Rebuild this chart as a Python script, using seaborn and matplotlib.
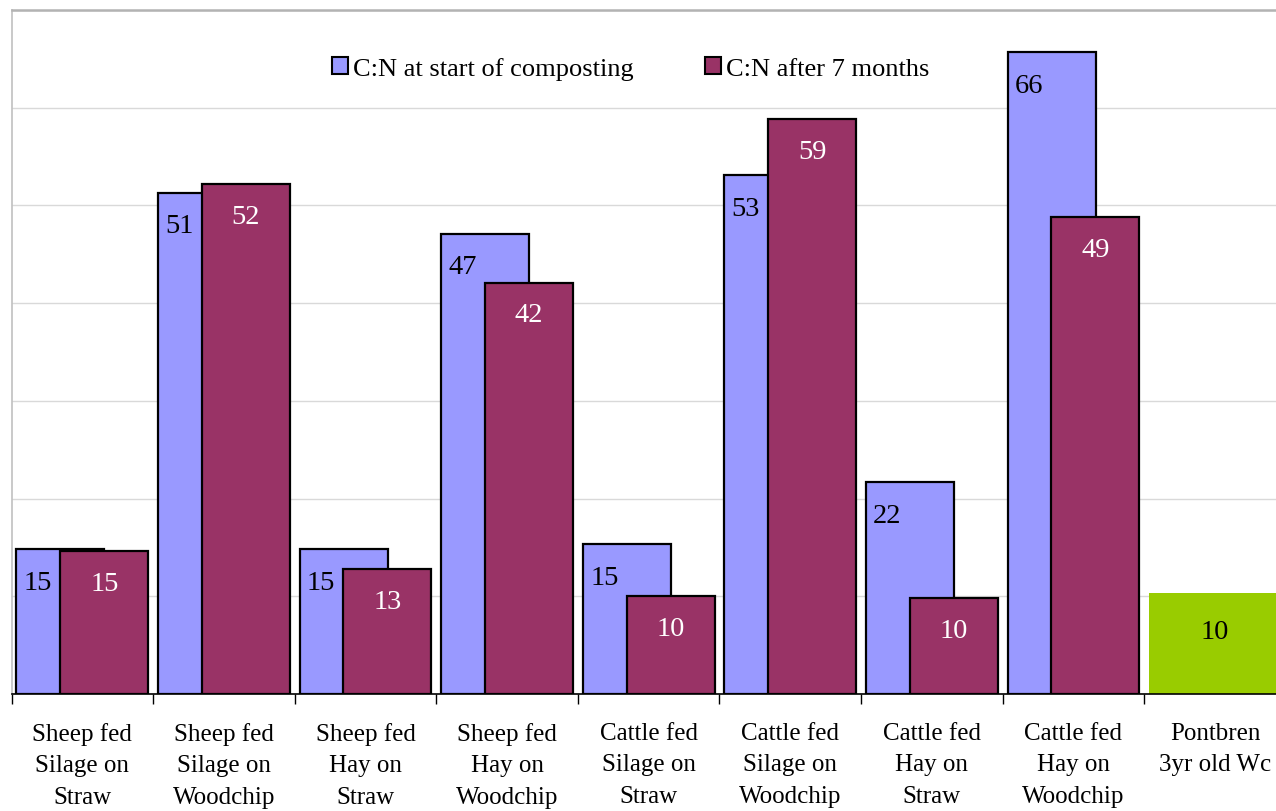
import matplotlib
matplotlib.use("Agg")
import matplotlib.pyplot as plt
from matplotlib.patches import Patch
import numpy as np
import seaborn as sns

categories = [
    "Sheep fed\nSilage on\nStraw",
    "Sheep fed\nSilage on\nWoodchip",
    "Sheep fed\nHay on\nStraw",
    "Sheep fed\nHay on\nWoodchip",
    "Cattle fed\nSilage on\nStraw",
    "Cattle fed\nSilage on\nWoodchip",
    "Cattle fed\nHay on\nStraw",
    "Cattle fed\nHay on\nWoodchip",
    "Pontbren\n3yr old Wc",
]
cn_start = [14.8, 51.3, 14.8, 47.1, 15.3, 53.1, 21.7, 65.7]
cn_after = [14.6, 52.2, 12.8, 42.1, 10.0, 58.8, 9.8, 48.8]
pontbren = [10.3]

series_names = ["C:N at start of composting", "C:N after 7 months"]
c_start = "#9999FF"
c_after = "#993366"
c_pont = "#99CC00"

sns.set_theme(style="white")
plt.rcParams["font.family"] = ["Liberation Serif", "DejaVu Serif"]
plt.rcParams["text.color"] = "black"
plt.rcParams["xtick.color"] = "black"

fig = plt.figure(figsize=(12.76, 8.12), dpi=100)
ax = fig.add_axes([11.5 / 1276, 1 - 695 / 812, 1 - 11.5 / 1276, (695 - 11) / 812])

idx = np.arange(len(cn_start))
bar_w = 0.622
off = 0.155

sns.barplot(x=idx - off, y=cn_start, native_scale=True, width=bar_w,
            color=c_start, saturation=1, edgecolor="black", linewidth=1.6,
            errorbar=None, ax=ax, zorder=2)
sns.barplot(x=idx + off, y=cn_after, native_scale=True, width=bar_w,
            color=c_after, saturation=1, edgecolor="black", linewidth=1.6,
            errorbar=None, ax=ax, zorder=3)
sns.barplot(x=[8.0], y=pontbren, native_scale=True, width=0.94,
            color=c_pont, saturation=1, linewidth=0,
            errorbar=None, ax=ax, zorder=2)

# value labels
lab_fs = 20.5
for i, (a, b) in enumerate(zip(cn_start, cn_after)):
    ax.text(i - 0.314, a - 3.4, f"{a:.0f}", ha="center", va="center",
            fontsize=lab_fs, color="black", zorder=5)
    ax.text(i + off, b - 3.3, f"{b:.0f}", ha="center", va="center",
            fontsize=lab_fs, color="white", zorder=5)
ax.text(8.0, pontbren[0] - 3.9, f"{pontbren[0]:.0f}", ha="center", va="center",
        fontsize=lab_fs, color="black", zorder=5)

# ticks first, then limits (setting ticks can widen the view)
ax.set_yticks(np.arange(0, 71, 10))
ax.set_yticklabels([])
ax.set_xticks(np.arange(len(categories)))
ax.set_xticklabels(categories, fontsize=18, linespacing=1.56, color="black")
ax.set_xticks(np.arange(len(categories) + 1) - 0.5, minor=True)

ax.set_ylim(0, 70)
ax.set_xlim(-0.5, -0.5 + (1276 - 11.5) / 141.6)

ax.yaxis.grid(True, color="#D9D9D9", linewidth=1.0, zorder=0)
ax.xaxis.grid(False)
ax.set_axisbelow(True)
ax.tick_params(axis="y", length=0)
ax.tick_params(axis="x", which="major", length=0, pad=20)
ax.tick_params(axis="x", which="minor", length=7, width=1, color="black",
               direction="out", bottom=True)
ax.set_xlabel("")
ax.set_ylabel("")

ax.spines["right"].set_visible(False)
ax.spines["bottom"].set_color("black")
ax.spines["bottom"].set_linewidth(1.2)
ax.spines["left"].set_color("#C0C0C0")
ax.spines["left"].set_linewidth(1.2)
ax.spines["top"].set_color("#B3B3B3")
ax.spines["top"].set_linewidth(1.8)

handles = [Patch(facecolor=c_start, edgecolor="black", linewidth=1.5),
           Patch(facecolor=c_after, edgecolor="black", linewidth=1.5)]
ax.legend(handles, series_names, loc="center", bbox_to_anchor=(0.49, 0.915),
          ncol=2, frameon=False, fontsize=19, handlelength=0.6,
          handleheight=0.65, handletextpad=0.2, columnspacing=2.7)

fig.savefig("out.png", dpi=100, facecolor="white")
